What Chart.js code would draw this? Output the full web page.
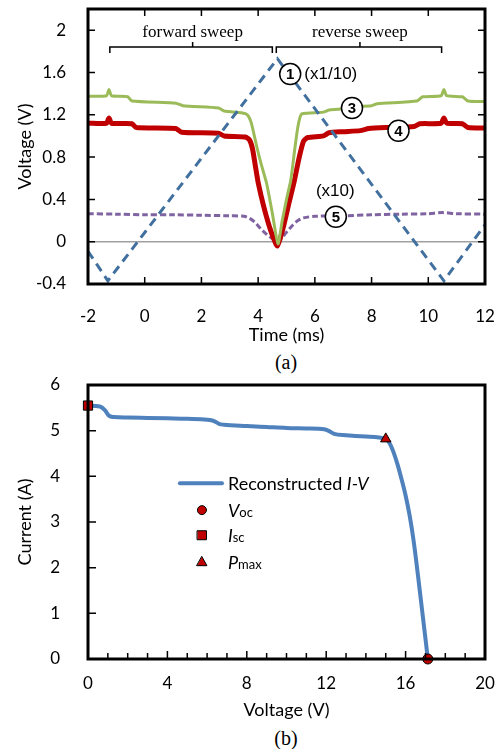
<!DOCTYPE html>
<html>
<head>
<meta charset="utf-8">
<script src="https://cdn.jsdelivr.net/npm/chart.js@4.4.1/dist/chart.umd.min.js"></script>
<style>
  body { margin: 0; background: #fff; width: 501px; height: 749px; position: relative; overflow: hidden; }
  canvas { position: absolute; left: 0; }
  #chartA { top: 0; }
  #chartB { top: 376px; }
  .cap { position: absolute; width: 60px; text-align: center; font: 20px "Liberation Serif", serif; line-height: 22px; }
</style>
</head>
<body>
<canvas id="chartA" width="501" height="350"></canvas>
<div class="cap" style="left:256px; top:351px;">(a)</div>
<canvas id="chartB" width="501" height="349"></canvas>
<div class="cap" style="left:256px; top:727px;">(b)</div>
<script>
// ---- chart (a) data : voltages vs time ----
// curve 1, sweep signal (x1/10)
const sweepTime = [-2, -1.3, 4.68, 10.55, 12];
const sweepVolt = [-0.09, -0.37, 1.73, -0.37, 0.16];

// curve 3 (green)
const c3Time = [-2, -1.35, -1.26, -1.17, -0.6, -0.45, 1.1, 1.35, 2.6, 2.8, 3.4, 3.55, 3.65, 3.75, 3.85, 3.95, 4.1, 4.3, 4.5, 4.7,
  4.85, 5.0, 5.15, 5.28, 5.38, 5.47, 5.55, 6.3, 6.5, 6.9, 7.05, 8.0, 8.2, 9.6, 9.8, 10.45, 10.55, 10.65, 11.2, 11.4, 12];
const c3Volt = [1.375, 1.38, 1.44, 1.38, 1.37, 1.33, 1.31, 1.285, 1.265, 1.235, 1.22, 1.21, 1.19, 1.13, 1.02, 0.9, 0.74, 0.55, 0.27, -0.02,
  0.2, 0.4, 0.58, 0.85, 1.05, 1.17, 1.21, 1.225, 1.245, 1.255, 1.275, 1.285, 1.305, 1.33, 1.37, 1.38, 1.44, 1.38, 1.37, 1.33, 1.325];

// curve 4 (red)
const c4Time = [-2, -1.35, -1.26, -1.17, -0.45, -0.3, 1.1, 1.3, 2.6, 2.8, 3.55, 3.7, 3.8, 3.9, 4.0, 4.2, 4.45, 4.68,
  4.9, 5.1, 5.28, 5.45, 5.6, 5.75, 6.3, 6.5, 7.0, 7.6, 7.9, 8.5, 9.5, 9.7, 10.45, 10.55, 10.65, 11.2, 11.4, 12];
const c4Volt = [1.12, 1.12, 1.17, 1.12, 1.115, 1.08, 1.07, 1.035, 1.025, 1.0, 0.99, 0.96, 0.88, 0.72, 0.56, 0.33, 0.1, -0.04,
  0.15, 0.38, 0.58, 0.8, 0.95, 0.985, 1.0, 1.03, 1.04, 1.05, 1.07, 1.08, 1.09, 1.115, 1.12, 1.17, 1.12, 1.115, 1.08, 1.075];

// curve 5 (purple, x10)
const c5Time = [-2, -1, 0, 1, 2, 3, 3.5, 3.7, 3.9, 4.1, 4.3, 4.5, 4.68, 4.85, 5.0, 5.2, 5.4, 5.6, 6, 7, 8, 9, 10, 10.5, 11, 12];
const c5Volt = [0.265, 0.26, 0.255, 0.255, 0.25, 0.245, 0.24, 0.22, 0.18, 0.12, 0.07, 0.03, 0.0, 0.04, 0.09, 0.15, 0.2, 0.225, 0.24, 0.245, 0.255, 0.26, 0.265, 0.275, 0.265, 0.26];

// ---- chart (b) data : reconstructed I-V ----
const ivVolt = [0, 0.6, 0.85, 1.05, 1.3, 2, 3, 4, 5, 6, 6.35, 6.6, 6.85, 8, 9, 10, 11, 11.9, 12.15, 12.4, 13, 14, 15,
  15.2, 15.4, 15.6, 15.8, 16.0, 16.2, 16.4, 16.7, 17.12];
const ivCurr = [5.55, 5.53, 5.45, 5.33, 5.3, 5.29, 5.28, 5.27, 5.26, 5.24, 5.21, 5.15, 5.13, 5.1, 5.08, 5.06, 5.05, 5.03, 4.99, 4.93, 4.9, 4.87, 4.82,
  4.72, 4.52, 4.25, 3.93, 3.58, 3.15, 2.6, 1.55, 0];
const vocPoint = [17.12, 0];
const iscPoint = [0, 5.55];
const pmaxPoint = [15.0, 4.82];

function pts(xs, ys) {
  return xs.map((x, i) => ({ x: x, y: ys[i] }));
}

const tickFont = { family: 'Lato', size: 17 };
const titleFont = { family: 'Lato', size: 18 };

// frame with inward tick marks
const boxPlugin = {
  id: 'box',
  afterDatasetsDraw(chart, args, opts) {
    const { ctx, chartArea: a, scales: { x, y } } = chart;
    ctx.save();
    ctx.strokeStyle = '#000';
    ctx.lineWidth = 1.5;
    ctx.beginPath();
    const xMarks = [];
    if (opts.xMinor) {
      for (let v = x.min; v <= x.max + 1e-9; v += opts.xMinor) xMarks.push(v);
    } else {
      x.ticks.forEach(t => xMarks.push(t.value));
    }
    xMarks.forEach(v => {
      const px = x.getPixelForValue(v);
      const major = Math.abs(v / opts.xMajor - Math.round(v / opts.xMajor)) < 1e-6;
      const len = major ? opts.len : opts.minorLen;
      ctx.moveTo(px, a.bottom); ctx.lineTo(px, a.bottom - len);
      if (opts.allSides) { ctx.moveTo(px, a.top); ctx.lineTo(px, a.top + len); }
    });
    y.ticks.forEach(t => {
      const py = y.getPixelForValue(t.value);
      ctx.moveTo(a.left, py); ctx.lineTo(a.left + opts.len, py);
      if (opts.allSides) { ctx.moveTo(a.right, py); ctx.lineTo(a.right - opts.len, py); }
    });
    ctx.stroke();
    ctx.lineWidth = 3;
    ctx.strokeRect(a.left, a.top, a.right - a.left, a.bottom - a.top);
    ctx.restore();
  }
};

// brackets, circled numbers and notes of chart (a)
const brackets = [
  { from: -1.23, to: 4.5, mid: 1.69, v: 1.84, text: 'forward sweep' },
  { from: 4.64, to: 10.47, mid: 7.59, v: 1.84, text: 'reverse sweep' }
];
const circled = [
  { n: '1', t: 5.13, v: 1.585 },
  { n: '3', t: 7.31, v: 1.264 },
  { n: '4', t: 8.95, v: 1.049 },
  { n: '5', t: 6.74, v: 0.236 }
];
const notes = [
  { text: '(x1/10)', t: 5.63, v: 1.585, align: 'left' },
  { text: '(x10)', t: 6.72, v: 0.473, align: 'center' }
];

const notesPlugin = {
  id: 'notes',
  afterDatasetsDraw(chart) {
    const { ctx, scales: { x, y } } = chart;
    ctx.save();
    ctx.strokeStyle = '#000';
    ctx.fillStyle = '#000';
    ctx.lineWidth = 1.5;
    brackets.forEach(b => {
      const py = y.getPixelForValue(b.v);
      const x1 = x.getPixelForValue(b.from), x2 = x.getPixelForValue(b.to), xm = x.getPixelForValue(b.mid);
      ctx.beginPath();
      ctx.moveTo(x1, py + 6); ctx.lineTo(x1, py); ctx.lineTo(x2, py); ctx.lineTo(x2, py + 6);
      ctx.moveTo(xm, py); ctx.lineTo(xm, py - 5);
      ctx.stroke();
      ctx.font = '17px "Liberation Serif", serif';
      ctx.textAlign = 'center';
      ctx.textBaseline = 'middle';
      ctx.fillText(b.text, xm, py - 15);
    });
    notes.forEach(n => {
      ctx.font = '17px "Liberation Sans", Arial, sans-serif';
      ctx.textAlign = n.align;
      ctx.textBaseline = 'middle';
      ctx.fillText(n.text, x.getPixelForValue(n.t), y.getPixelForValue(n.v));
    });
    circled.forEach(c => {
      const px = x.getPixelForValue(c.t), py = y.getPixelForValue(c.v);
      ctx.beginPath();
      ctx.arc(px, py, 10.5, 0, Math.PI * 2);
      ctx.fillStyle = '#fff';
      ctx.fill();
      ctx.stroke();
      ctx.fillStyle = '#000';
      ctx.font = 'bold 15px "Liberation Sans", Arial, sans-serif';
      ctx.textAlign = 'center';
      ctx.textBaseline = 'middle';
      ctx.fillText(c.n, px, py + 1);
    });
    ctx.restore();
  }
};

new Chart(document.getElementById('chartA'), {
  type: 'line',
  data: {
    datasets: [
      { data: pts(sweepTime, sweepVolt), borderColor: '#41709f', borderWidth: 3, borderDash: [9, 6], tension: 0, order: 0 },
      { data: pts(c3Time, c3Volt), borderColor: '#9bbb59', borderWidth: 3, tension: 0.2, order: 1 },
      { data: pts(c4Time, c4Volt), borderColor: '#c00000', borderWidth: 5, tension: 0.2, order: 2 },
      { data: pts(c5Time, c5Volt), borderColor: '#8064a2', borderWidth: 3, borderDash: [6, 3], tension: 0.3, order: 3 }
    ]
  },
  options: {
    responsive: false,
    animation: false,
    elements: { point: { radius: 0 } },
    layout: { padding: { top: 9, right: 16, left: 0, bottom: 0 } },
    plugins: { legend: { display: false }, tooltip: { enabled: false }, box: { len: 7, minorLen: 7, xMajor: 2, allSides: true } },
    scales: {
      x: {
        type: 'linear', min: -2, max: 12,
        ticks: { stepSize: 2, padding: 14, font: tickFont, color: '#000', maxRotation: 0 },
        grid: { display: false }, border: { display: false },
        title: { display: true, text: 'Time (ms)', font: titleFont, color: '#000', padding: { top: 0, bottom: 4 } },
        afterFit: s => { s.height = 66; s.paddingLeft = 0; s.paddingRight = 0; }
      },
      y: {
        min: -0.4, max: 2.2,
        ticks: { stepSize: 0.4, includeBounds: false, padding: 22, font: tickFont, color: '#000',
          callback: v => String(Math.round(v * 10) / 10) },
        grid: { drawTicks: false, lineWidth: 1.5, color: c => (c.tick && Math.abs(c.tick.value) < 1e-9 ? '#a0a0a0' : 'rgba(0,0,0,0)') },
        border: { display: false },
        title: { display: true, text: 'Voltage (V)', font: titleFont, color: '#000', padding: { top: 14, bottom: 0 } },
        afterFit: s => { s.width = 88; s.paddingTop = 0; s.paddingBottom = 0; }
      }
    }
  },
  plugins: [boxPlugin, notesPlugin]
});

// legend of chart (b), drawn inside the plot
const legendRows = [
  { kind: 'line', ds: 0, v: 4.63, v2: 6.75, i: 3.85, parts: [['Reconstructed ', ''], ['I-V', 'italic ']] },
  { kind: 'circle', ds: 1, v: 5.74, i: 3.26, parts: [['V', 'italic '], ['oc', 'small']] },
  { kind: 'rect', ds: 2, v: 5.74, i: 2.71, parts: [['I', 'italic '], ['sc', 'small']] },
  { kind: 'triangle', ds: 3, v: 5.74, i: 2.12, parts: [['P', 'italic '], ['max', 'small']] }
];
const textVolt = 7.05;

const legendPlugin = {
  id: 'ivLegend',
  afterDatasetsDraw(chart) {
    const { ctx, scales: { x, y } } = chart;
    ctx.save();
    legendRows.forEach(r => {
      const ds = chart.data.datasets[r.ds];
      const px = x.getPixelForValue(r.v), py = y.getPixelForValue(r.i);
      ctx.strokeStyle = ds.borderColor;
      ctx.fillStyle = ds.backgroundColor;
      if (r.kind === 'line') {
        ctx.lineWidth = ds.borderWidth;
        ctx.lineCap = 'round';
        ctx.beginPath();
        ctx.moveTo(px, py); ctx.lineTo(x.getPixelForValue(r.v2), py);
        ctx.stroke();
      } else {
        ctx.lineWidth = 1;
        ctx.beginPath();
        if (r.kind === 'circle') ctx.arc(px, py, 4.5, 0, Math.PI * 2);
        if (r.kind === 'rect') ctx.rect(px - 4.5, py - 4.5, 9, 9);
        if (r.kind === 'triangle') { ctx.moveTo(px, py - 5.5); ctx.lineTo(px + 5, py + 3.5); ctx.lineTo(px - 5, py + 3.5); ctx.closePath(); }
        ctx.fill();
        ctx.stroke();
      }
      let tx = x.getPixelForValue(textVolt);
      const base = py + 6.5;
      ctx.fillStyle = '#000';
      ctx.textAlign = 'left';
      ctx.textBaseline = 'alphabetic';
      r.parts.forEach(p => {
        ctx.font = p[1] === 'small' ? '13px Lato' : p[1] + '18px Lato';
        ctx.fillText(p[0], tx, base);
        tx += ctx.measureText(p[0]).width;
      });
    });
    ctx.restore();
  }
};

const markRed = '#c00000';

new Chart(document.getElementById('chartB'), {
  type: 'line',
  data: {
    datasets: [
      { data: pts(ivVolt, ivCurr), borderColor: '#4f81bd', borderWidth: 4, cubicInterpolationMode: 'monotone', pointRadius: 0, order: 1 },
      { data: [{ x: vocPoint[0], y: vocPoint[1] }], pointStyle: 'circle', pointRadius: 5, backgroundColor: markRed, borderColor: '#000', borderWidth: 1, showLine: false, clip: false, order: 0 },
      { data: [{ x: iscPoint[0], y: iscPoint[1] }], pointStyle: 'rect', pointRadius: 6.5, backgroundColor: markRed, borderColor: '#000', borderWidth: 1, showLine: false, clip: false, order: 0 },
      { data: [{ x: pmaxPoint[0], y: pmaxPoint[1] }], pointStyle: 'triangle', pointRadius: 6, backgroundColor: markRed, borderColor: '#000', borderWidth: 1, showLine: false, clip: false, order: 0 }
    ]
  },
  options: {
    responsive: false,
    animation: false,
    layout: { padding: { top: 9, right: 16, left: 0, bottom: 0 } },
    plugins: { legend: { display: false }, tooltip: { enabled: false }, box: { len: 8, minorLen: 6, xMinor: 1, xMajor: 4, allSides: false } },
    scales: {
      x: {
        type: 'linear', min: 0, max: 20,
        ticks: { stepSize: 4, padding: 6, font: tickFont, color: '#000', maxRotation: 0 },
        grid: { display: false }, border: { display: false },
        title: { display: true, text: 'Voltage (V)', font: titleFont, color: '#000', padding: { top: 0, bottom: 4 } },
        afterFit: s => { s.height = 66; s.paddingLeft = 0; s.paddingRight = 0; }
      },
      y: {
        min: 0, max: 6,
        ticks: { stepSize: 1, padding: 20, font: tickFont, color: '#000' },
        grid: { display: false }, border: { display: false },
        title: { display: true, text: 'Current (A)', font: titleFont, color: '#000', padding: { top: 14, bottom: 0 } },
        afterFit: s => { s.width = 88; s.paddingTop = 0; s.paddingBottom = 0; }
      }
    }
  },
  plugins: [boxPlugin, legendPlugin]
});
</script>
</body>
</html>
